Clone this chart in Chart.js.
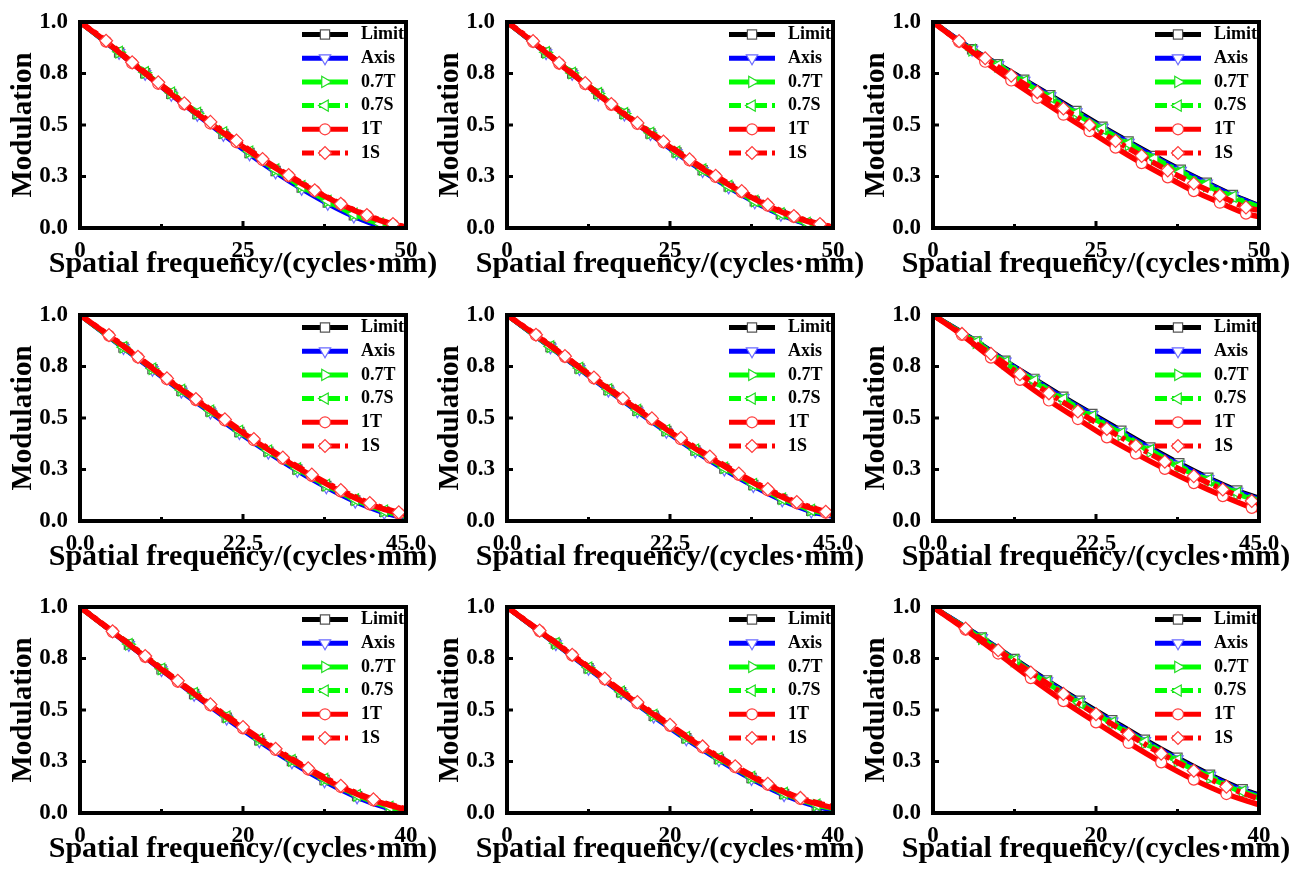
<!DOCTYPE html>
<html><head><meta charset="utf-8">
<script src="https://cdn.jsdelivr.net/npm/chart.js@4.4.1/dist/chart.umd.min.js"></script>
<style>
html,body{margin:0;padding:0;background:#fff;}
#wrap{position:relative;width:1304px;height:870px;overflow:hidden;background:#fff;}
.cell{position:absolute;width:440px;height:292px;}
</style></head><body><div id="wrap"></div>
<script>
// ---------- data ----------
const seriesNames = ['Limit', 'Axis', '0.7T', '0.7S', '1T', '1S'];
const xTitle = 'Spatial frequency/(cycles·mm)';
const yTitle = 'Modulation';
const xRange = [50, 50, 50, 45, 45, 45, 40, 40, 40];
const xTickValues = [[0,25,50],[0,25,50],[0,25,50],[0,22.5,45],[0,22.5,45],[0,22.5,45],[0,20,40],[0,20,40],[0,20,40]];
const xTickLabels = [['0','25','50'],['0','25','50'],['0','25','50'],['0.0','22.5','45.0'],['0.0','22.5','45.0'],['0.0','22.5','45.0'],['0','20','40'],['0','20','40'],['0','20','40']];
const xMinorTicks = [[12.5,37.5],[12.5,37.5],[12.5,37.5],[11.25,33.75],[11.25,33.75],[11.25,33.75],[10,30],[10,30],[10,30]];
const yTickValues = [0, 0.25, 0.5, 0.75, 1];
const yTickLabels = ['0.0', '0.3', '0.5', '0.8', '1.0'];

// sample frequencies (A: 1T/1S, B: Limit/Axis/0.7T/0.7S)
const freqA50 = [0,4,8,12,16,20,24,28,32,36,40,44,48,50];
const freqB50 = [0,6,10,14,18,22,26,30,34,38,42,46,50];
const freqA45 = [0,4,8,12,16,20,24,28,32,36,40,44,45];
const freqB45 = [0,6,10,14,18,22,26,30,34,38,42,45];
const freqA40 = [0,4,8,12,16,20,24,28,32,36,40];
const freqB40 = [0,6,10,14,18,22,26,30,34,38,40];

const limitY = [
  [1,.852,.751,.651,.553,.457,.364,.277,.196,.124,.062,.015,0],
  [1,.851,.750,.651,.554,.459,.367,.281,.201,.129,.068,.022,.002],
  [1,.868,.795,.720,.645,.568,.492,.420,.350,.283,.220,.160,.110],
  [1,.842,.737,.632,.531,.432,.337,.250,.170,.100,.045,.018],
  [1,.845,.740,.636,.535,.437,.342,.255,.175,.105,.050,.025],
  [1,.872,.778,.690,.603,.520,.438,.357,.280,.210,.148,.112],
  [1,.818,.697,.578,.463,.353,.252,.160,.082,.025,.006],
  [1,.822,.703,.586,.472,.363,.262,.170,.092,.035,.018],
  [1,.852,.748,.644,.545,.450,.356,.268,.186,.115,.088]
];
const axisY = [
  [1,.850,.748,.647,.549,.452,.358,.270,.190,.118,.056,.010,0],
  [1,.849,.748,.648,.551,.456,.363,.277,.197,.125,.064,.019,.001],
  [1,.866,.792,.716,.640,.563,.487,.415,.345,.279,.217,.157,.108],
  [1,.840,.734,.628,.527,.427,.332,.244,.164,.094,.040,.014],
  [1,.843,.738,.633,.532,.433,.338,.250,.170,.100,.046,.022],
  [1,.870,.775,.686,.598,.515,.432,.351,.274,.205,.143,.107],
  [1,.816,.694,.574,.458,.348,.246,.154,.076,.020,.003],
  [1,.820,.700,.583,.468,.358,.257,.165,.087,.031,.015],
  [1,.850,.745,.640,.540,.445,.350,.262,.181,.110,.083]
];
const t07Y = [
  [1,.853,.754,.655,.557,.462,.369,.282,.201,.130,.067,.020,.002],
  [1,.852,.752,.653,.556,.461,.369,.283,.203,.131,.070,.024,.003],
  [1,.862,.785,.708,.630,.553,.476,.403,.333,.267,.205,.147,.097],
  [1,.843,.739,.634,.534,.435,.340,.253,.173,.103,.048,.022],
  [1,.846,.742,.638,.538,.440,.345,.258,.178,.108,.053,.028],
  [1,.865,.767,.676,.587,.502,.418,.337,.261,.192,.131,.096],
  [1,.819,.699,.580,.466,.356,.255,.163,.085,.028,.008],
  [1,.823,.705,.588,.474,.366,.265,.173,.095,.038,.021],
  [1,.845,.738,.631,.530,.434,.339,.251,.170,.100,.073]
];
const s07Y = [
  [1,.855,.756,.657,.559,.464,.371,.284,.203,.132,.069,.022,.003],
  [1,.853,.753,.654,.557,.462,.370,.284,.204,.132,.071,.025,.004],
  [1,.864,.789,.712,.635,.558,.482,.409,.339,.273,.211,.152,.102],
  [1,.844,.740,.636,.536,.437,.342,.255,.175,.105,.050,.024],
  [1,.847,.743,.639,.539,.441,.346,.259,.179,.109,.054,.030],
  [1,.868,.771,.681,.592,.508,.425,.344,.267,.198,.137,.101],
  [1,.820,.700,.582,.468,.358,.257,.165,.087,.030,.010],
  [1,.824,.706,.589,.476,.368,.267,.175,.097,.040,.023],
  [1,.848,.742,.636,.535,.439,.345,.257,.176,.105,.078]
];
const t1Y = [
  [1,.905,.800,.700,.600,.507,.416,.330,.252,.180,.115,.060,.017,.004],
  [1,.903,.798,.698,.598,.505,.415,.328,.248,.174,.108,.054,.016,.004],
  [1,.904,.807,.716,.632,.550,.470,.390,.315,.246,.179,.123,.070,.055],
  [1,.900,.794,.688,.587,.488,.392,.302,.219,.144,.081,.037,.030],
  [1,.902,.797,.692,.591,.493,.397,.307,.224,.149,.086,.040,.032],
  [1,.903,.793,.685,.585,.495,.406,.327,.253,.184,.121,.064,.052],
  [1,.879,.758,.637,.522,.411,.306,.211,.126,.061,.016],
  [1,.883,.765,.648,.533,.423,.318,.222,.137,.068,.025],
  [1,.890,.774,.655,.543,.440,.340,.246,.162,.092,.040]
];
const s1Y = [
  [1,.909,.804,.707,.605,.515,.424,.335,.257,.183,.117,.063,.019,.006],
  [1,.907,.802,.703,.602,.510,.420,.333,.253,.179,.113,.058,.019,.006],
  [1,.907,.824,.740,.660,.580,.500,.423,.350,.280,.216,.157,.100,.085],
  [1,.902,.797,.692,.592,.493,.398,.308,.225,.150,.087,.042,.034],
  [1,.904,.800,.696,.596,.498,.403,.313,.230,.155,.092,.045,.036],
  [1,.908,.811,.713,.620,.532,.447,.365,.288,.218,.153,.097,.088],
  [1,.882,.762,.642,.527,.417,.312,.217,.132,.066,.020],
  [1,.885,.768,.652,.538,.428,.323,.227,.142,.073,.030],
  [1,.895,.790,.682,.578,.480,.382,.288,.205,.128,.068]
];

// ---------- styles ----------
const FONT = '"Liberation Serif", "Times New Roman", serif';
const seriesStyle = [
  {color:'#000000', mark:'#555555', style:'rect',     rot:0,   r:6.5, dash:[]},
  {color:'#0000ff', mark:'#6a6aff', style:'triangle', rot:180, r:6.5, dash:[]},
  {color:'#00ff00', mark:'#22dd22', style:'triangle', rot:90,  r:6.5, dash:[]},
  {color:'#00ff00', mark:'#22dd22', style:'triangle', rot:-90, r:6.5, dash:[12,5,4,5]},
  {color:'#ff0000', mark:'#ff3b3b', style:'circle',   rot:0,   r:5.5, dash:[]},
  {color:'#ff0000', mark:'#ff3b3b', style:'rectRot',  rot:0,   r:6.5, dash:[12,5,4,5]}
];
const seriesValues = [limitY, axisY, t07Y, s07Y, t1Y, s1Y];
function gridsFor(range){
  if (range === 50) return [freqA50, freqB50];
  if (range === 45) return [freqA45, freqB45];
  return [freqA40, freqB40];
}

function drawMarker(ctx, st, x, y){
  ctx.save();
  ctx.fillStyle = '#ffffff';
  ctx.strokeStyle = st.mark;
  ctx.lineWidth = 1.2;
  ctx.setLineDash([]);
  if (Chart.helpers && Chart.helpers.drawPoint) {
    Chart.helpers.drawPoint(ctx, {pointStyle: st.style, rotation: st.rot, radius: st.r, borderWidth: 1.2}, x, y);
  } else {
    ctx.beginPath(); ctx.arc(x, y, st.r, 0, Math.PI*2); ctx.fill(); ctx.stroke();
  }
  ctx.restore();
}

const framePlugin = {
  id: 'frameTicks',
  afterDraw(chart){
    const {ctx, chartArea: a} = chart;
    const xs = chart.scales.x, ys = chart.scales.y;
    const p = chart.options.panelIndex;
    ctx.save();
    ctx.setLineDash([]);
    ctx.strokeStyle = '#000';
    ctx.lineWidth = 3;
    // inner ticks
    ctx.beginPath();
    xTickValues[p].forEach(v => { const px = xs.getPixelForValue(v); ctx.moveTo(px, a.bottom); ctx.lineTo(px, a.bottom - 7); });
    xMinorTicks[p].forEach(v => { const px = xs.getPixelForValue(v); ctx.moveTo(px, a.bottom); ctx.lineTo(px, a.bottom - 4); });
    yTickValues.forEach(v => { const py = ys.getPixelForValue(v); ctx.moveTo(a.left, py); ctx.lineTo(a.left + 6, py); });
    ctx.stroke();
    ctx.lineWidth = 4;
    ctx.strokeRect(a.left, a.top, a.right - a.left, a.bottom - a.top);
    // x-axis title (drawn without width compression)
    ctx.fillStyle = '#000';
    ctx.font = 'bold 30px ' + FONT;
    ctx.textAlign = 'center';
    ctx.textBaseline = 'alphabetic';
    ctx.fillText(xTitle, (a.left + a.right) / 2, a.bottom + 44);
    // legend
    ctx.font = 'bold 18px ' + FONT;
    ctx.textBaseline = 'middle';
    ctx.textAlign = 'left';
    seriesNames.forEach((name, s) => {
      const st = seriesStyle[s];
      const y = a.top + 12.5 + s * 23.7;
      const x0 = a.left + 222, x1 = a.left + 268;
      ctx.strokeStyle = st.color;
      ctx.lineWidth = 5;
      ctx.setLineDash(st.dash);
      ctx.beginPath(); ctx.moveTo(x0, y); ctx.lineTo(x1, y); ctx.stroke();
      ctx.setLineDash([]);
      drawMarker(ctx, st, a.left + 245, y);
      ctx.fillStyle = '#000';
      ctx.fillText(name, a.left + 281, y);
    });
    ctx.restore();
  }
};

const wrap = document.getElementById('wrap');
const colLeft = [0, 427, 853];
const rowTop = [0, 293, 585];

for (let p = 0; p < 9; p++) {
  const div = document.createElement('div');
  div.className = 'cell';
  div.style.left = colLeft[p % 3] + 'px';
  div.style.top = rowTop[Math.floor(p / 3)] + 'px';
  const canvas = document.createElement('canvas');
  canvas.width = 440; canvas.height = 292;
  canvas.style.width = '440px'; canvas.style.height = '292px';
  div.appendChild(canvas);
  wrap.appendChild(div);

  const [gA, gB] = gridsFor(xRange[p]);
  const datasets = seriesNames.map((name, s) => {
    const st = seriesStyle[s];
    const xs = s >= 4 ? gA : gB;
    const ys = seriesValues[s][p];
    const n = xs.length;
    return {
      label: name,
      data: xs.map((x, i) => ({x: x, y: ys[i]})),
      borderColor: st.color,
      backgroundColor: st.color,
      borderWidth: s >= 4 ? 5.5 : 5,
      borderDash: st.dash,
      borderCapStyle: 'butt',
      pointStyle: st.style,
      pointRotation: st.rot,
      pointRadius: (c) => (c.dataIndex === 0 || c.dataIndex === n - 1) ? 0 : st.r,
      pointBackgroundColor: '#ffffff',
      pointBorderColor: st.mark,
      pointBorderWidth: 1.2,
      cubicInterpolationMode: 'monotone',
      fill: false,
      order: 6 - s
    };
  });

  const tickFont = {family: FONT, weight: 'bold', size: 23};
  new Chart(canvas, {
    type: 'line',
    data: {datasets},
    options: {
      panelIndex: p,
      responsive: false,
      animation: false,
      devicePixelRatio: 1,
      events: [],
      layout: {padding: {top: 22, right: 34, bottom: 0, left: 0}},
      plugins: {legend: {display: false}, tooltip: {enabled: false}},
      scales: {
        x: {
          type: 'linear', min: 0, max: xRange[p],
          grid: {display: false}, border: {display: false},
          afterBuildTicks: (sc) => { sc.ticks = xTickValues[p].map(v => ({value: v})); },
          afterFit: (sc) => { sc.height = 64; },
          ticks: {autoSkip: false, maxRotation: 0, minRotation: 0, padding: 1, color: '#000', font: tickFont,
                  callback: (v, i) => xTickLabels[p][i]},
          title: {display: false}
        },
        y: {
          type: 'linear', min: 0, max: 1,
          grid: {display: false}, border: {display: false},
          afterBuildTicks: (sc) => { sc.ticks = yTickValues.map(v => ({value: v})); },
          afterFit: (sc) => { sc.width = 80; },
          ticks: {autoSkip: false, padding: 4, color: '#000', font: tickFont,
                  callback: (v, i) => yTickLabels[i]},
          title: {display: true, text: yTitle, color: '#000',
                  font: {family: FONT, weight: 'bold', size: 29}, padding: {top: 6, bottom: 0}}
        }
      }
    },
    plugins: [framePlugin]
  });
}
</script>
</body></html>
